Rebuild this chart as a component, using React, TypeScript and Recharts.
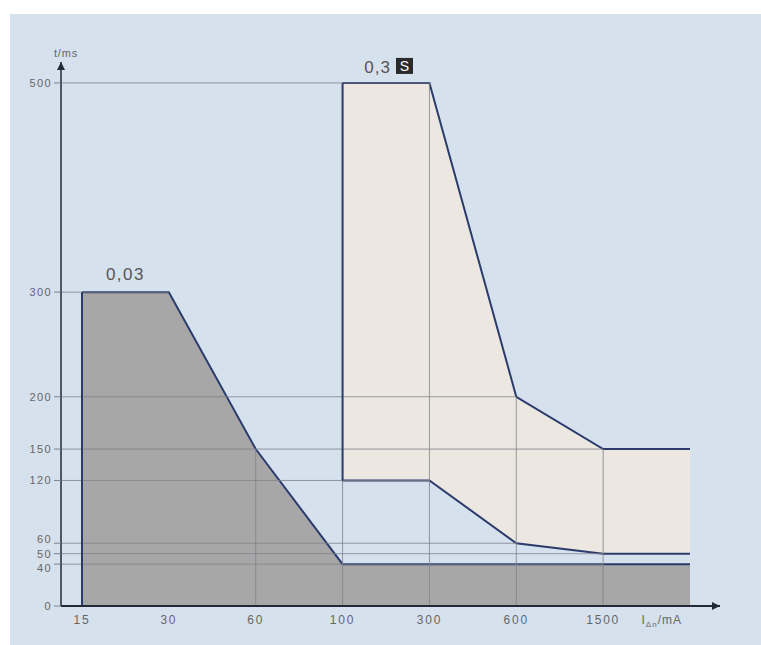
import { ComposedChart, Area, XAxis, YAxis, ReferenceLine } from 'recharts'

// residual current (mA) breakpoints, last one is the open end of the curves
const currents = ['15', '30', '60', '100', '300', '600', '1500', '']
// 0,03 instantaneous device: max break time (ms)
const instantTrip = [300, 300, 150, 40, 40, 40, 40, 40]
// 0,3 S selective device: max / min break time (ms)
const selectiveMax = [null, null, null, 500, 500, 200, 150, 150]
const selectiveMin = [null, null, null, 120, 120, 60, 50, 50]
const timeTicks = [0, 40, 50, 60, 120, 150, 200, 300, 500]

const NAVY = '#2b3b6c'
const GUIDE = '#7e828a'
const TXT = '#666'
const FONT = '"Liberation Sans", Arial, sans-serif'

const X_MIN = -0.2418
const X_MAX = 7.3454
const lastIdx = currents.length - 1

const data = currents.map((c, i) => ({
    i,
    label: c,
    inst: instantTrip[i],
    sel: selectiveMax[i] == null ? null : [selectiveMin[i], selectiveMax[i]],
}))

const hitsAt = (t: number, i: number) =>
    instantTrip[i] === t || selectiveMax[i] === t || selectiveMin[i] === t

// guide lines from y axis to the farthest breakpoint with that time
const hGuides = timeTicks
    .filter(t => t > 0)
    .map(t => {
        let far = -1
        for (let i = 0; i < lastIdx; i++) if (hitsAt(t, i)) far = i
        return { t, far }
    })
    .filter(g => g.far >= 0)

// guide lines from x axis up to the breakpoints
const vGuides = [2, 3, 4, 5, 6].map(i => ({ i, top: Math.max(instantTrip[i], selectiveMax[i] ?? 0) }))

const selStart = selectiveMax.findIndex(v => v != null)

function XTick({ x, y, payload }: any) {
    const idx = payload.value
    if (idx === lastIdx) {
        return (
            <text x={x - 8} y={y} dy="0.71em" textAnchor="end" fill={TXT} fontSize={12} fontFamily={FONT} letterSpacing={1}>
                I<tspan fontSize={8} dy={3}>Δn</tspan>
                <tspan dy={-3}>/mA</tspan>
            </text>
        )
    }
    return (
        <text x={x} y={y} dy="0.71em" textAnchor="middle" fill={TXT} fontSize={12} fontFamily={FONT} letterSpacing={1.8}>
            {currents[idx]}
        </text>
    )
}

// the 40/50/60 labels sit close together, spread them a little
function YTick({ x, y, payload }: any) {
    const v = payload.value
    const nudge = v === 40 ? 4 : v === 60 ? -4 : 0
    return (
        <text x={x + 1} y={y + nudge} dy="0.355em" textAnchor="end" fill={TXT} fontSize={11} fontFamily={FONT} letterSpacing={1.4}>
            {v}
        </text>
    )
}

export default function App() {
    return (
        <div style={{ position: 'fixed', left: 0, top: 0, width: 761, height: 645, background: '#fff' }}>
            <svg width={0} height={0} style={{ position: 'absolute' }}>
                <defs>
                    <marker id="arrow" viewBox="0 0 10 10" refX={10} refY={5} markerWidth={9} markerHeight={8}
                        markerUnits="userSpaceOnUse" orient="auto-start-reverse">
                        <path d="M0,0 L10,5 L0,10 z" fill="#222a3a" />
                    </marker>
                </defs>
            </svg>
            <div style={{ position: 'absolute', left: 10, top: 14, right: 0, bottom: 0, background: '#d6e1ee' }} />
            <div style={{ position: 'absolute', left: 0, top: 0 }}>
                <ComposedChart width={761} height={645} data={data} margin={{ top: 62, right: 41, bottom: 9, left: 0 }}>
                    <XAxis
                        dataKey="i"
                        type="number"
                        domain={[X_MIN, X_MAX]}
                        ticks={currents.map((_, i) => i)}
                        tick={<XTick />}
                        tickLine={false}
                        tickSize={4}
                        tickMargin={5}
                        height={30}
                        axisLine={{ stroke: '#222a3a', strokeWidth: 2, markerEnd: 'url(#arrow)' }}
                    />
                    <YAxis
                        type="number"
                        domain={[0, 520]}
                        ticks={timeTicks}
                        interval={0}
                        width={61}
                        tickSize={7}
                        tickMargin={3}
                        tickLine={{ stroke: GUIDE }}
                        tick={<YTick />}
                        axisLine={{ stroke: '#222a3a', strokeWidth: 1.5, markerStart: 'url(#arrow)' }}
                        label={{
                            content: ({ viewBox }: any) => (
                                <text x={viewBox.x + viewBox.width + 5} y={viewBox.y - 5} textAnchor="middle"
                                    fill={TXT} fontSize={11} fontFamily={FONT} letterSpacing={0.8}>t/ms</text>
                            ),
                        }}
                    />
                    <Area
                        type="linear"
                        dataKey="inst"
                        fill="#a8a7a7"
                        fillOpacity={1}
                        stroke={NAVY}
                        strokeWidth={2}
                        isAnimationActive={false}
                        dot={false}
                        activeDot={false}
                    />
                    <Area
                        type="linear"
                        dataKey="sel"
                        fill="#ece8e1"
                        fillOpacity={1}
                        stroke={NAVY}
                        strokeWidth={2}
                        isAnimationActive={false}
                        dot={false}
                        activeDot={false}
                    />
                    {hGuides.map(g => (
                        <ReferenceLine key={'h' + g.t}
                            segment={[{ x: X_MIN, y: g.t }, { x: g.far, y: g.t }]}
                            stroke={GUIDE} strokeWidth={1} strokeOpacity={0.8} />
                    ))}
                    {vGuides.map(g => (
                        <ReferenceLine key={'v' + g.i}
                            segment={[{ x: g.i, y: 0 }, { x: g.i, y: g.top }]}
                            stroke={GUIDE} strokeWidth={1} strokeOpacity={0.8} />
                    ))}
                    <ReferenceLine segment={[{ x: 0, y: 0 }, { x: 0, y: instantTrip[0] }]} stroke={NAVY} strokeWidth={2} />
                    <ReferenceLine
                        segment={[{ x: selStart, y: selectiveMin[selStart] as number }, { x: selStart, y: selectiveMax[selStart] as number }]}
                        stroke={NAVY} strokeWidth={2} />
                    <ReferenceLine
                        segment={[{ x: 0, y: instantTrip[0] }, { x: 1, y: instantTrip[1] }]}
                        stroke="none"
                        label={{
                            content: ({ viewBox }: any) => (
                                <text x={viewBox.x + viewBox.width / 2} y={viewBox.y - 12} textAnchor="middle"
                                    fill="#555" fontSize={17} fontFamily={FONT} letterSpacing={1.5}>0,03</text>
                            ),
                        }}
                    />
                    <ReferenceLine
                        segment={[{ x: selStart, y: selectiveMax[selStart] as number }, { x: selStart + 1, y: selectiveMax[selStart + 1] as number }]}
                        stroke="none"
                        label={{
                            content: ({ viewBox }: any) => {
                                const cx = viewBox.x + viewBox.width / 2
                                const y = viewBox.y
                                return (
                                    <g>
                                        <text x={cx + 5} y={y - 10} textAnchor="end" fill="#555" fontSize={17} fontFamily={FONT} letterSpacing={1}>0,3</text>
                                        <rect x={cx + 10} y={y - 25} width={17} height={16} fill="#2a2a2a" />
                                        <text x={cx + 18.5} y={y - 12} textAnchor="middle" fill="#fff" fontSize={14} fontFamily={FONT}>S</text>
                                    </g>
                                )
                            },
                        }}
                    />
                </ComposedChart>
            </div>
        </div>
    )
}
